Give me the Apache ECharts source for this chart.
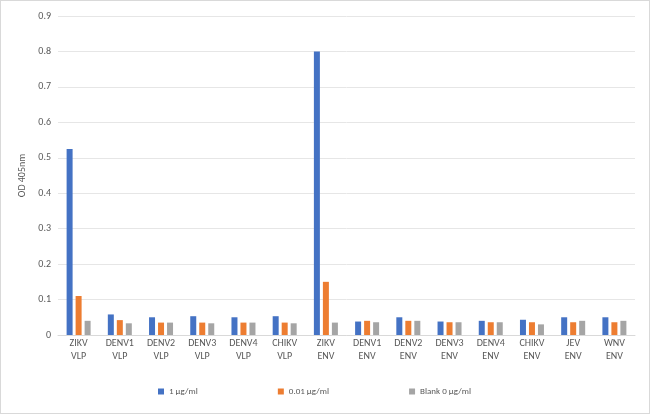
<!DOCTYPE html>
<html><head><meta charset="utf-8">
<script src="https://cdn.jsdelivr.net/npm/echarts@6/dist/echarts.min.js"></script>
<style>html,body{margin:0;padding:0;background:#fff}#c{width:650px;height:414px;box-sizing:border-box;border:1px solid #d9d9d9}</style>
</head><body><div id="c"></div>
<script>
const categories = ['ZIKV\nVLP','DENV1\nVLP','DENV2\nVLP','DENV3\nVLP','DENV4\nVLP','CHIKV\nVLP','ZIKV\nENV','DENV1\nENV','DENV2\nENV','DENV3\nENV','DENV4\nENV','CHIKV\nENV','JEV\nENV','WNV\nENV'];
const s1ug = [0.525,0.058,0.05,0.053,0.05,0.053,0.80,0.038,0.05,0.038,0.04,0.043,0.05,0.05];
const s001ug = [0.11,0.042,0.035,0.035,0.035,0.035,0.15,0.04,0.04,0.036,0.036,0.036,0.036,0.036];
const blank = [0.04,0.033,0.035,0.033,0.035,0.033,0.035,0.036,0.04,0.036,0.036,0.03,0.04,0.04];
const names = ['1 µg/ml','0.01 µg/ml','Blank 0 µg/ml'];
const colors = ['#4472C4','#ED7D31','#A5A5A5'];
const chart = echarts.init(document.getElementById('c'));
const txt = {color:'#595959', fontFamily:'Calibri, Carlito, Liberation Sans, sans-serif', fontSize:10};
chart.setOption({
  animation:false,
  grid:{left:57,right:14,top:15,bottom:78},
  legend:{bottom:12,left:152,itemWidth:6,itemHeight:6,itemGap:80,icon:'rect',textStyle:{...txt,fontSize:9}},
  xAxis:{type:'category',data:categories,axisTick:{show:false},axisLine:{lineStyle:{color:'#d9d9d9'}},axisLabel:{...txt,lineHeight:13,margin:2,interval:0}},
  yAxis:{type:'value',min:0,max:0.9,interval:0.1,name:'OD 405nm',nameLocation:'middle',nameGap:30,nameTextStyle:{...txt},
    axisLabel:{...txt,margin:7,formatter:v=>v===0?'0':v.toFixed(1)},splitLine:{lineStyle:{color:'#e6e6e6'}}},
  series:[s1ug,s001ug,blank].map((d,i)=>({type:'bar',name:names[i],data:d,barWidth:6,barGap:'50%',itemStyle:{color:colors[i]}}))
});
</script></body></html>
